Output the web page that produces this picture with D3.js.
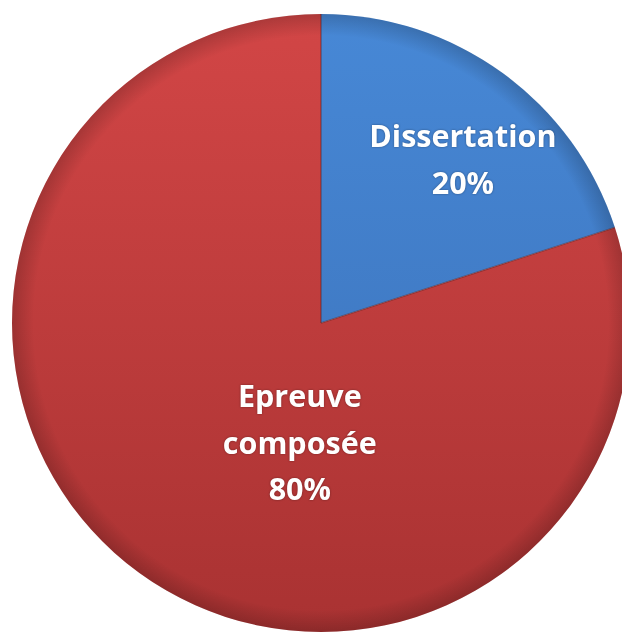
<!DOCTYPE html>
<html><head><meta charset="utf-8">
<script src="https://cdn.jsdelivr.net/npm/d3@7"></script>
<style>html,body{margin:0;padding:0;background:#fff;}</style>
</head><body>
<svg id="c" width="622" height="633"></svg>
<script>
const categories = ["Dissertation", "Epreuve composée"];
const values = [20, 80];
const labelLines = [["Dissertation", "20%"], ["Epreuve", "composée", "80%"]];

const svg = d3.select("#c");
const cx = 321, cy = 323, R = 309;
const defs = svg.append("defs");
const grads = [
  {id: "gB", top: "#4788d6", bot: "#3a6fb6"},
  {id: "gR", top: "#d24646", bot: "#a93232"}
];
grads.forEach(g => {
  const lg = defs.append("linearGradient").attr("id", g.id)
    .attr("gradientUnits", "userSpaceOnUse")
    .attr("x1", 0).attr("y1", -R).attr("x2", 0).attr("y2", R);
  lg.append("stop").attr("offset", 0).attr("stop-color", g.top);
  lg.append("stop").attr("offset", 1).attr("stop-color", g.bot);
});
const rg = defs.append("radialGradient").attr("id", "rim")
  .attr("gradientUnits", "userSpaceOnUse").attr("cx", 0).attr("cy", 0).attr("r", R);
rg.append("stop").attr("offset", 0.93).attr("stop-color", "#000").attr("stop-opacity", 0);
rg.append("stop").attr("offset", 1).attr("stop-color", "#000").attr("stop-opacity", 0.18);

const pie = d3.pie().sort(null).value(d => d);
const arcs = pie(values);
const arc = d3.arc().innerRadius(0).outerRadius(R);
const g = svg.append("g").attr("transform", `translate(${cx},${cy})`);

g.selectAll("path.slice").data(arcs).enter().append("path")
  .attr("class", "slice")
  .attr("d", arc)
  .attr("fill", (d, i) => `url(#${grads[i].id})`);

g.append("circle").attr("r", R).attr("fill", "url(#rim)");

g.selectAll("line.div").data(arcs).enter().append("line")
  .attr("x1", 0).attr("y1", 0)
  .attr("x2", d => R * Math.sin(d.startAngle))
  .attr("y2", d => -R * Math.cos(d.startAngle))
  .attr("stroke", "#5a2020").attr("stroke-opacity", 0.45).attr("stroke-width", 1.5);

const labelAngle = [41, 190];
const labelRad = [0.70, 0.395];
const fs = 30.5, lh = 46.5;
arcs.forEach((d, i) => {
  const a = labelAngle[i] * Math.PI / 180;
  const x = labelRad[i] * R * Math.sin(a);
  const y = -labelRad[i] * R * Math.cos(a);
  const lines = labelLines[i];
  const t = g.append("text")
    .attr("text-anchor", "middle")
    .attr("font-family", "'Open Sans', sans-serif")
    .attr("font-weight", "bold")
    .attr("font-size", fs)
    .attr("fill", "#fff")
    .style("filter", "drop-shadow(0px 0px 1px rgba(0,0,0,0.35))");
  lines.forEach((l, j) => {
    t.append("tspan").attr("x", x)
      .attr("y", y + (j - (lines.length - 1) / 2) * lh)
      .attr("dy", "0.35em").text(l);
  });
});
</script>
</body></html>
